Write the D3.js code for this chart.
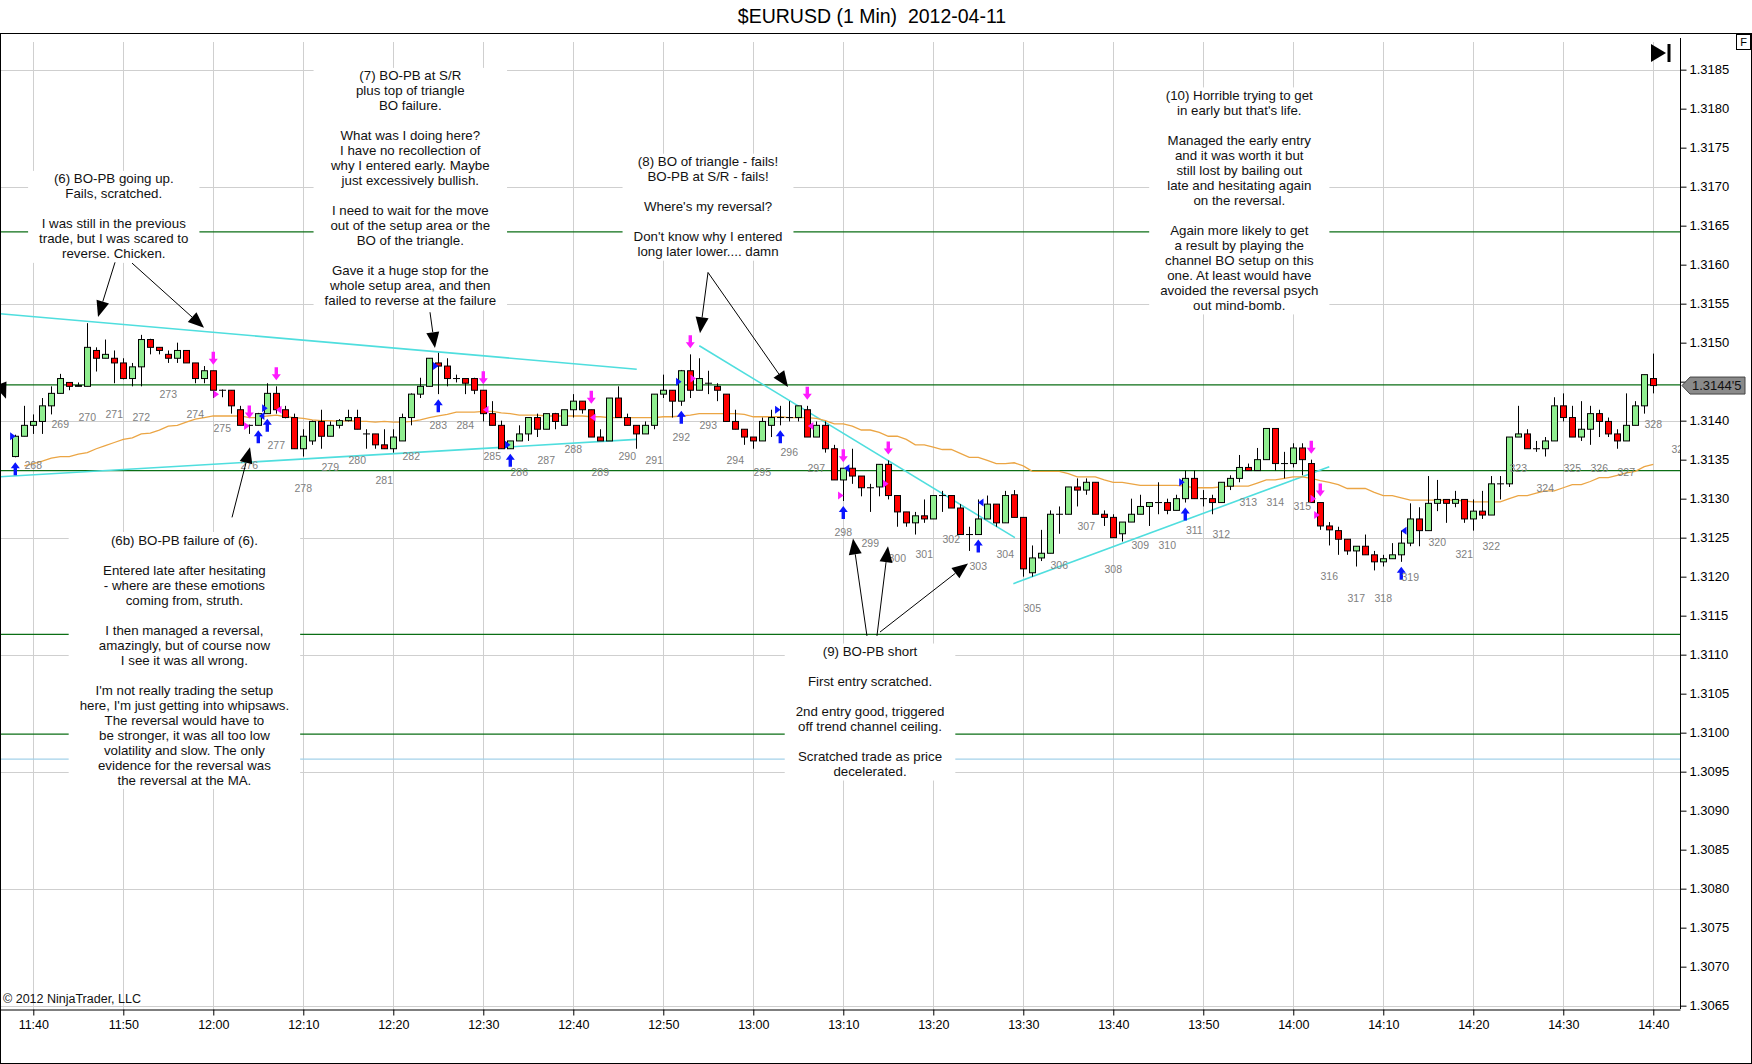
<!DOCTYPE html>
<html>
<head>
<meta charset="utf-8">
<script src="https://cdn.jsdelivr.net/npm/d3@7"></script>
<style>
  body { margin: 0; background: #fff; }
  svg { display: block; }
  text { font-family: "Liberation Sans", Arial, sans-serif; }
</style>
</head>
<body>
<svg id="chart" width="1752" height="1064"></svg>
<script>
// ---- data -----------------------------------------------------------------
// one row per minute bar, [open, high, low, close]; first bar is 11:38
const firstBarOffset = -2
const bars = [
  [1.31354,1.31382,1.31353,1.31380],[1.31380,1.31419,1.31380,1.31394],[1.31394,1.31408,1.31383,1.31399],
  [1.31399,1.31429,1.31383,1.31419],[1.31419,1.31444,1.31408,1.31435],[1.31435,1.31460,1.31435,1.31454],
  [1.31449,1.31449,1.31439,1.31444],[1.31444,1.31449,1.31444,1.31445],[1.31444,1.31525,1.31444,1.31494],
  [1.31490,1.31494,1.31463,1.31480],[1.31480,1.31504,1.31480,1.31485],[1.31480,1.31490,1.31448,1.31474],
  [1.31474,1.31480,1.31453,1.31454],[1.31454,1.31474,1.31444,1.31469],[1.31469,1.31510,1.31444,1.31504],
  [1.31504,1.31505,1.31485,1.31494],[1.31494,1.31494,1.31485,1.31490],[1.31485,1.31490,1.31474,1.31480],
  [1.31480,1.31500,1.31474,1.31490],[1.31490,1.31490,1.31474,1.31474],[1.31474,1.31474,1.31448,1.31454],
  [1.31454,1.31470,1.31448,1.31464],[1.31464,1.31464,1.31429,1.31439],[1.31439,1.31440,1.31430,1.31439],
  [1.31439,1.31439,1.31409,1.31419],[1.31414,1.31419,1.31394,1.31394],[1.31394,1.31395,1.31383,1.31394],
  [1.31394,1.31410,1.31394,1.31409],[1.31409,1.31448,1.31409,1.31435],[1.31435,1.31444,1.31409,1.31414],
  [1.31414,1.31419,1.31403,1.31404],[1.31404,1.31409,1.31364,1.31364],[1.31364,1.31389,1.31354,1.31380],
  [1.31374,1.31400,1.31369,1.31399],[1.31399,1.31414,1.31364,1.31380],[1.31380,1.31399,1.31380,1.31394],
  [1.31394,1.31402,1.31390,1.31400],[1.31400,1.31414,1.31399,1.31404],[1.31404,1.31414,1.31389,1.31389],
  [1.31383,1.31389,1.31364,1.31383],[1.31383,1.31383,1.31364,1.31369],[1.31369,1.31389,1.31364,1.31364],
  [1.31364,1.31389,1.31359,1.31379],[1.31374,1.31409,1.31374,1.31404],[1.31404,1.31435,1.31394,1.31434],
  [1.31434,1.31455,1.31429,1.31444],[1.31444,1.31480,1.31444,1.31480],[1.31474,1.31487,1.31434,1.31470],
  [1.31470,1.31480,1.31444,1.31454],[1.31454,1.31459,1.31449,1.31454],[1.31454,1.31454,1.31434,1.31448],
  [1.31454,1.31455,1.31434,1.31439],[1.31439,1.31439,1.31399,1.31409],[1.31409,1.31425,1.31394,1.31394],
  [1.31394,1.31400,1.31364,1.31364],[1.31364,1.31374,1.31364,1.31374],[1.31374,1.31394,1.31374,1.31383],
  [1.31383,1.31404,1.31374,1.31404],[1.31404,1.31409,1.31379,1.31389],[1.31389,1.31409,1.31389,1.31409],
  [1.31409,1.31410,1.31389,1.31399],[1.31394,1.31414,1.31394,1.31414],[1.31414,1.31434,1.31404,1.31425],
  [1.31425,1.31425,1.31409,1.31414],[1.31414,1.31414,1.31379,1.31379],[1.31379,1.31389,1.31374,1.31374],
  [1.31374,1.31429,1.31374,1.31429],[1.31429,1.31444,1.31404,1.31404],[1.31404,1.31409,1.31394,1.31394],
  [1.31394,1.31394,1.31364,1.31383],[1.31383,1.31399,1.31383,1.31394],[1.31394,1.31434,1.31389,1.31434],
  [1.31434,1.31459,1.31429,1.31439],[1.31439,1.31439,1.31404,1.31425],[1.31425,1.31465,1.31419,1.31464],
  [1.31464,1.31485,1.31429,1.31439],[1.31439,1.31480,1.31439,1.31454],[1.31448,1.31464,1.31434,1.31448],
  [1.31444,1.31448,1.31425,1.31439],[1.31434,1.31434,1.31399,1.31399],[1.31399,1.31414,1.31389,1.31389],
  [1.31389,1.31389,1.31369,1.31379],[1.31379,1.31379,1.31364,1.31374],[1.31374,1.31404,1.31374,1.31399],
  [1.31394,1.31414,1.31379,1.31404],[1.31404,1.31419,1.31394,1.31404],[1.31404,1.31425,1.31399,1.31404],
  [1.31404,1.31419,1.31399,1.31419],[1.31414,1.31419,1.31379,1.31379],[1.31379,1.31399,1.31379,1.31394],
  [1.31394,1.31399,1.31359,1.31364],[1.31364,1.31369,1.31324,1.31324],[1.31324,1.31339,1.31297,1.31339],
  [1.31339,1.31364,1.31319,1.31329],[1.31329,1.31329,1.31303,1.31314],[1.31314,1.31319,1.31283,1.31314],
  [1.31315,1.31344,1.31303,1.31344],[1.31344,1.31349,1.31299,1.31304],[1.31304,1.31304,1.31264,1.31283],
  [1.31283,1.31283,1.31264,1.31269],[1.31269,1.31283,1.31254,1.31278],[1.31278,1.31299,1.31269,1.31274],
  [1.31274,1.31304,1.31274,1.31304],[1.31304,1.31310,1.31283,1.31304],[1.31304,1.31304,1.31288,1.31288],
  [1.31288,1.31293,1.31254,1.31254],[1.31254,1.31264,1.31233,1.31254],[1.31254,1.31299,1.31254,1.31274],
  [1.31274,1.31304,1.31274,1.31293],[1.31293,1.31293,1.31264,1.31269],[1.31269,1.31310,1.31269,1.31304],
  [1.31305,1.31311,1.31276,1.31276],[1.31276,1.31276,1.31200,1.31210],[1.31205,1.31240,1.31200,1.31224],
  [1.31224,1.31260,1.31220,1.31230],[1.31230,1.31285,1.31230,1.31280],[1.31280,1.31290,1.31255,1.31280],
  [1.31280,1.31315,1.31280,1.31315],[1.31315,1.31326,1.31290,1.31311],[1.31311,1.31326,1.31305,1.31321],
  [1.31321,1.31321,1.31280,1.31280],[1.31280,1.31285,1.31265,1.31276],[1.31276,1.31280,1.31250,1.31250],
  [1.31255,1.31270,1.31245,1.31270],[1.31270,1.31300,1.31270,1.31280],[1.31280,1.31305,1.31280,1.31290],
  [1.31290,1.31295,1.31265,1.31295],[1.31295,1.31321,1.31280,1.31295],[1.31295,1.31300,1.31280,1.31285],
  [1.31285,1.31305,1.31285,1.31300],[1.31300,1.31336,1.31295,1.31326],[1.31326,1.31336,1.31300,1.31300],
  [1.31300,1.31311,1.31290,1.31300],[1.31300,1.31305,1.31280,1.31295],[1.31295,1.31321,1.31295,1.31321],
  [1.31316,1.31330,1.31311,1.31326],[1.31326,1.31356,1.31321,1.31340],[1.31340,1.31345,1.31336,1.31336],
  [1.31336,1.31365,1.31336,1.31350],[1.31350,1.31390,1.31350,1.31390],[1.31390,1.31390,1.31336,1.31345],
  [1.31345,1.31360,1.31326,1.31345],[1.31345,1.31371,1.31340,1.31365],[1.31365,1.31371,1.31330,1.31350],
  [1.31345,1.31350,1.31295,1.31295],[1.31295,1.31295,1.31260,1.31265],[1.31265,1.31270,1.31240,1.31260],
  [1.31259,1.31264,1.31228,1.31248],[1.31248,1.31248,1.31228,1.31233],[1.31233,1.31239,1.31213,1.31239],
  [1.31239,1.31254,1.31228,1.31228],[1.31228,1.31233,1.31208,1.31219],[1.31219,1.31228,1.31213,1.31223],
  [1.31223,1.31243,1.31223,1.31228],[1.31228,1.31259,1.31219,1.31243],[1.31243,1.31294,1.31239,1.31274],
  [1.31274,1.31289,1.31239,1.31259],[1.31259,1.31329,1.31259,1.31294],[1.31294,1.31324,1.31284,1.31299],
  [1.31299,1.31299,1.31269,1.31294],[1.31294,1.31310,1.31289,1.31299],[1.31299,1.31299,1.31269,1.31274],
  [1.31274,1.31299,1.31259,1.31284],[1.31284,1.31310,1.31274,1.31279],[1.31279,1.31329,1.31279,1.31319],
  [1.31319,1.31329,1.31299,1.31319],[1.31319,1.31379,1.31315,1.31379],[1.31379,1.31419,1.31379,1.31383],
  [1.31383,1.31389,1.31364,1.31364],[1.31364,1.31374,1.31360,1.31364],[1.31364,1.31379,1.31354,1.31374],
  [1.31374,1.31430,1.31374,1.31419],[1.31419,1.31435,1.31399,1.31404],[1.31404,1.31419,1.31379,1.31379],
  [1.31379,1.31425,1.31374,1.31389],[1.31389,1.31419,1.31369,1.31409],[1.31409,1.31414,1.31379,1.31399],
  [1.31399,1.31404,1.31379,1.31383],[1.31383,1.31389,1.31364,1.31374],[1.31374,1.31435,1.31374,1.31394],
  [1.31394,1.31425,1.31394,1.31419],[1.31419,1.31459,1.31409,1.31459],[1.31454,1.31486,1.31435,1.31445]
]

// moving average, one value per bar starting at 11:39
const maOffset = -1
const maValues = [
  1.31342,1.31345,1.31348,1.31352,1.31354,1.31354,1.31357,1.31359,1.31364,1.31368,
  1.31372,1.31376,1.31378,1.31383,1.31384,1.31388,1.31393,1.31394,1.31398,1.31402,
  1.31404,1.31406,1.31406,1.31406,1.31406,1.31404,1.31404,1.31406,1.31407,1.31405,
  1.31404,1.31403,1.31401,1.31400,1.31400,1.31399,1.31400,1.31399,1.31399,1.31398,
  1.31399,1.31398,1.31398,1.31399,1.31401,1.31404,1.31406,1.31408,1.31411,1.31411,
  1.31411,1.31412,1.31412,1.31410,1.31409,1.31407,1.31407,1.31407,1.31406,1.31406,
  1.31406,1.31406,1.31406,1.31405,1.31405,1.31404,1.31404,1.31404,1.31404,1.31404,
  1.31404,1.31405,1.31405,1.31406,1.31407,1.31409,1.31409,1.31409,1.31409,1.31409,
  1.31408,1.31405,1.31405,1.31405,1.31405,1.31404,1.31404,1.31404,1.31403,1.31400,
  1.31396,1.31396,1.31393,1.31388,1.31388,1.31385,1.31380,1.31380,1.31376,1.31369,
  1.31369,1.31366,1.31363,1.31363,1.31358,1.31353,1.31353,1.31349,1.31345,1.31345,
  1.31346,1.31342,1.31335,1.31335,1.31335,1.31335,1.31332,1.31328,1.31328,1.31328,
  1.31324,1.31321,1.31321,1.31319,1.31317,1.31317,1.31317,1.31317,1.31317,1.31316,
  1.31314,1.31314,1.31314,1.31315,1.31316,1.31316,1.31316,1.31320,1.31324,1.31324,
  1.31326,1.31328,1.31328,1.31326,1.31323,1.31321,1.31318,1.31313,1.31313,1.31313,
  1.31308,1.31304,1.31304,1.31301,1.31298,1.31298,1.31298,1.31298,1.31298,1.31298,
  1.31297,1.31296,1.31296,1.31296,1.31296,1.31300,1.31304,1.31304,1.31307,1.31310,
  1.31310,1.31314,1.31318,1.31318,1.31322,1.31327,1.31327,1.31330,1.31333,1.31335,
  1.31341,1.31344
]

// bar counter printed under every third bar, starting at 11:40
const firstBarNumber = 268
const lastBarNumber = 329
const lastLabelLow = 1.31404   // 329 sits past the last bar

const yTickValues = d3.range(1.3065, 1.31851, 0.0005)
const yGridValues = d3.range(1.3065, 1.31851, 0.0015)

// horizontal S/R lines
const greenLevels = [1.31642, 1.31446, 1.31336, 1.31126, 1.30998]
const blueLevels = [1.30966]

// trend lines: [startMinute, startPrice, endMinute, endPrice]
const trendLines = [
  [-3.7, 1.31537, 67.05, 1.31466],
  [-3.7, 1.31328, 67.05, 1.31376],
  [74.0, 1.31496, 109.07, 1.31250],
  [108.9, 1.31191, 144.0, 1.31341]
]

const longArrows = [-2, 25, 26, 45, 53, 72, 83, 90, 105, 128, 152]
const shortArrows = [20, 24, 27, 50, 62, 73, 86, 90, 95, 142, 143]

// fills: [minute, price, colour, direction]
const fills = [
  [-2.3, 1.31380, 'b', 'r'], [20.3, 1.31434, 'm', 'r'], [23.7, 1.31393, 'm', 'r'],
  [25.7, 1.31416, 'b', 'r'], [25.4, 1.31406, 'b', 'l'], [27.3, 1.31414, 'm', 'l'],
  [44.7, 1.31470, 'b', 'r'], [50.3, 1.31414, 'm', 'l'], [52.7, 1.31369, 'b', 'r'],
  [62.2, 1.31404, 'm', 'l'], [71.7, 1.31450, 'b', 'r'], [73.3, 1.31454, 'm', 'r'],
  [82.7, 1.31414, 'b', 'r'], [86.4, 1.31393, 'm', 'l'], [90.4, 1.31339, 'b', 'l'],
  [89.7, 1.31304, 'm', 'r'], [94.7, 1.31319, 'm', 'r'], [105.3, 1.31295, 'b', 'l'],
  [127.6, 1.31321, 'b', 'r'], [142.2, 1.31300, 'm', 'r'], [142.6, 1.31279, 'm', 'r'],
  [152.3, 1.31259, 'b', 'l']
]

// comments: [centreMinute, firstLinePrice, lines]
const notes = [
  [8.94, 1.31710, ['(6) BO-PB going up.', 'Fails, scratched.', '', 'I was still in the previous',
    'trade, but I was scared to', 'reverse. Chicken.']],
  [41.89, 1.31842, ['(7) BO-PB at S/R', 'plus top of triangle', 'BO failure.', '',
    'What was I doing here?', 'I have no recollection of', 'why I entered early. Maybe',
    'just excessively bullish.', '', 'I need to wait for the move', 'out of the setup area or the',
    'BO of the triangle.', '', 'Gave it a huge stop for the', 'whole setup area, and then',
    'failed to reverse at the failure']],
  [74.97, 1.31732, ['(8) BO of triangle - fails!', 'BO-PB at S/R - fails!', '', "Where's my reversal?", '',
    "Don't know why I entered", 'long later lower.... damn']],
  [134.0, 1.31817, ['(10) Horrible trying to get', "in early but that's life.", '', 'Managed the early entry',
    'and it was worth it but', 'still lost by bailing out', 'late and hesitating again', 'on the reversal.', '',
    'Again more likely to get', 'a result by playing the', 'channel BO setup on this',
    'one. At least would have', 'avoided the reversal psych', 'out mind-bomb.']],
  [16.79, 1.31247, ['(6b) BO-PB failure of (6).', '', 'Entered late after hesitating',
    '- where are these emotions', 'coming from, struth.', '', 'I then managed a reversal,',
    'amazingly, but of course now', 'I see it was all wrong.', '', "I'm not really trading the setup",
    "here, I'm just getting into whipsaws.", 'The reversal would have to', 'be stronger, it was all too low',
    'volatility and slow. The only', 'evidence for the reversal was', 'the reversal at the MA.']],
  [92.97, 1.31104, ['(9) BO-PB short', '', 'First entry scratched.', '', '2nd entry good, triggered',
    'off trend channel ceiling.', '', 'Scratched trade as price', 'decelerated.']]
]

// pointer arrows: [fromMinute, fromPrice, toMinute, toPrice]
const pointers = [
  [9.08, 1.31603, 7.19, 1.31533], [10.97, 1.31602, 18.97, 1.31519],
  [44.08, 1.31539, 44.63, 1.31493], [74.97, 1.31590, 74.08, 1.31512],
  [74.97, 1.31590, 83.86, 1.31443], [22.08, 1.31276, 24.08, 1.31366],
  [92.63, 1.31124, 91.08, 1.31249], [93.74, 1.31124, 94.97, 1.31239],
  [94.08, 1.31129, 103.86, 1.31217], [-5.9, 1.31516, -3.03, 1.31428]
]

// ---- chart ----------------------------------------------------------------
const W = 1752, H = 1064
const plot = { left: 0, right: 1680, top: 33, bottom: 1009 }
const t0 = new Date(2012, 3, 11, 11, 40)
const minuteToDate = m => new Date(t0.getTime() + m * 60000)

const x = d3.scaleLinear().domain([-3.7, 182.97]).range([plot.left, plot.right])
const xTime = d3.scaleTime().domain([minuteToDate(-3.7), minuteToDate(182.97)]).range([plot.left, plot.right])
const y = d3.scaleLinear().domain([1.30647, 1.31897]).range([1008, 33])

const svg = d3.select('#chart')
const defs = svg.append('defs')
defs.append('clipPath').attr('id', 'plotClip').append('rect')
  .attr('x', plot.left).attr('y', plot.top).attr('width', plot.right - plot.left).attr('height', plot.bottom - plot.top)

svg.append('text').attr('x', 872).attr('y', 23).attr('text-anchor', 'middle')
  .style('font-size', '19.5px').style('white-space', 'pre').text('$EURUSD (1 Min)  2012-04-11')

const g = svg.append('g').attr('clip-path', 'url(#plotClip)')

// grid
const timeTicks = xTime.ticks(d3.timeMinute.every(10))
g.append('g').selectAll('line').data(timeTicks).enter().append('line')
  .attr('x1', d => Math.round(xTime(d)) + 0.5).attr('x2', d => Math.round(xTime(d)) + 0.5)
  .attr('y1', 42).attr('y2', plot.bottom).attr('stroke', '#cfcfcf')
g.append('g').selectAll('line').data(yGridValues).enter().append('line')
  .attr('x1', plot.left).attr('x2', plot.right)
  .attr('y1', d => Math.round(y(d)) + 0.5).attr('y2', d => Math.round(y(d)) + 0.5).attr('stroke', '#cfcfcf')

// S/R lines
g.append('g').selectAll('line').data(greenLevels).enter().append('line')
  .attr('x1', plot.left).attr('x2', plot.right)
  .attr('y1', d => y(d)).attr('y2', d => y(d)).attr('stroke', '#0b6e14').attr('stroke-width', 1.3)
g.append('g').selectAll('line').data(blueLevels).enter().append('line')
  .attr('x1', plot.left).attr('x2', plot.right)
  .attr('y1', d => y(d)).attr('y2', d => y(d)).attr('stroke', '#a4d2ea').attr('stroke-width', 1.2)

// comment boxes
const noteLineHeight = 15
notes.forEach(([m, p, lines]) => {
  const box = g.append('g')
  const cx = x(m), cy = y(p)
  lines.forEach((line, k) => {
    box.append('text').attr('x', cx).attr('y', cy + k * noteLineHeight)
      .attr('text-anchor', 'middle').attr('dominant-baseline', 'central')
      .style('font-size', '13.3px').attr('fill', '#111').text(line)
  })
  const bb = box.node().getBBox()
  box.insert('rect', ':first-child')
    .attr('x', bb.x - 11).attr('y', cy - 8).attr('width', bb.width + 22)
    .attr('height', (lines.length - 1) * noteLineHeight + 17).attr('fill', '#fff')
})

// trend lines
g.append('g').selectAll('line').data(trendLines).enter().append('line')
  .attr('x1', d => x(d[0])).attr('y1', d => y(d[1])).attr('x2', d => x(d[2])).attr('y2', d => y(d[3]))
  .attr('stroke', '#4fdede').attr('stroke-width', 1.6)

// moving average
const maLine = d3.line().x((d, k) => x(k + maOffset)).y(d => y(d))
g.append('path').datum(maValues).attr('d', maLine)
  .attr('fill', 'none').attr('stroke', '#eba544').attr('stroke-width', 1.3)

// candles
const candleData = bars.map((b, k) => ({ m: k + firstBarOffset, o: b[0], h: b[1], l: b[2], c: b[3] }))
const byMinute = new Map(candleData.map(d => [d.m, d]))
const candles = g.append('g').selectAll('g').data(candleData).enter().append('g')
candles.append('line')
  .attr('x1', d => Math.round(x(d.m)) + 0.5).attr('x2', d => Math.round(x(d.m)) + 0.5)
  .attr('y1', d => y(d.h)).attr('y2', d => y(d.l)).attr('stroke', '#000')
candles.append('rect')
  .attr('x', d => Math.round(x(d.m)) - 3 + 0.5).attr('width', 6)
  .attr('y', d => y(Math.max(d.o, d.c)))
  .attr('height', d => Math.max(0.01, Math.abs(y(d.o) - y(d.c))))
  .attr('fill', d => d.c > d.o ? '#90ee90' : d.c < d.o ? '#ff0000' : '#000')
  .attr('stroke', '#000').attr('stroke-width', 1)

// trade arrows
const arrowPath = (cx, tipY, dir) => {
  const s = dir
  return `M${cx},${tipY} L${cx + 4.5},${tipY + 6 * s} L${cx + 1.7},${tipY + 6 * s} L${cx + 1.7},${tipY + 13 * s}` +
    ` L${cx - 1.7},${tipY + 13 * s} L${cx - 1.7},${tipY + 6 * s} L${cx - 4.5},${tipY + 6 * s} Z`
}
g.append('g').selectAll('path').data(longArrows).enter().append('path')
  .attr('d', m => arrowPath(x(m), y(byMinute.get(m).l) + 5, 1)).attr('fill', '#0a14ff')
g.append('g').selectAll('path').data(shortArrows).enter().append('path')
  .attr('d', m => arrowPath(x(m), y(byMinute.get(m).h) - 6, -1)).attr('fill', '#ff1aff')

// fill markers
g.append('g').selectAll('path').data(fills).enter().append('path')
  .attr('d', d => {
    const px = x(d[0]), py = y(d[1])
    return d[3] === 'r' ? `M${px - 2.5},${py - 4} L${px + 3},${py} L${px - 2.5},${py + 4} Z`
                        : `M${px + 2.5},${py - 4} L${px - 3},${py} L${px + 2.5},${py + 4} Z`
  })
  .attr('fill', d => d[2] === 'b' ? '#0a14ff' : '#ff1aff')

// bar numbers
const barNumbers = d3.range(firstBarNumber, lastBarNumber + 1)
g.append('g').selectAll('text').data(barNumbers).enter().append('text')
  .attr('x', n => x((n - firstBarNumber) * 3))
  .attr('y', n => {
    const bar = byMinute.get((n - firstBarNumber) * 3)
    return y(bar ? bar.l : lastLabelLow) + 31
  })
  .attr('text-anchor', 'middle').attr('dominant-baseline', 'central')
  .style('font-size', '10.5px').attr('fill', '#808080').text(n => n)

// pointer arrows
const pg = g.append('g')
pointers.forEach(([m0, p0, m1, p1]) => {
  const x0 = x(m0), y0 = y(p0), x1 = x(m1), y1 = y(p1)
  const ang = Math.atan2(y1 - y0, x1 - x0)
  const len = 16, half = 6.5
  const bx = x1 - len * Math.cos(ang), by = y1 - len * Math.sin(ang)
  pg.append('line').attr('x1', x0).attr('y1', y0).attr('x2', bx).attr('y2', by)
    .attr('stroke', '#000').attr('stroke-width', 1)
  pg.append('polygon').attr('points', [
    [x1, y1],
    [bx + half * Math.sin(ang), by - half * Math.cos(ang)],
    [bx - half * Math.sin(ang), by + half * Math.cos(ang)]
  ].map(q => q.join(',')).join(' ')).attr('fill', '#000')
})

// axes
const lastClose = bars[bars.length - 1][3]
const ly = y(lastClose)

const yAxis = d3.axisRight(y).tickValues(yTickValues).tickFormat(d3.format('.4f')).tickSize(6).tickSizeOuter(0).tickPadding(3)
const ya = svg.append('g').attr('transform', `translate(${plot.right + 0.5},0)`).call(yAxis)
ya.select('.domain').attr('d', `M0,38 V${plot.bottom}`)
ya.selectAll('text').style('font-size', '13px').attr('fill', '#000').style('font-family', '"Liberation Sans", Arial, sans-serif')
// the last-price tag hides the label underneath it
ya.selectAll('.tick').filter(d => Math.abs(y(d) - ly) < 14).select('text').remove()

const xAxis = d3.axisBottom(xTime).ticks(d3.timeMinute.every(10)).tickFormat(d3.timeFormat('%H:%M'))
  .tickSize(6).tickSizeOuter(0).tickPadding(5)
const xa = svg.append('g').attr('transform', `translate(0,${plot.bottom + 0.5})`).call(xAxis)
xa.selectAll('text').style('font-size', '12.5px').attr('fill', '#000').style('font-family', '"Liberation Sans", Arial, sans-serif')

// frame
svg.append('rect').attr('x', 0.5).attr('y', 33.5).attr('width', W - 1).attr('height', H - 34)
  .attr('fill', 'none').attr('stroke', '#000')

// last price marker
svg.append('polygon').attr('points', [
  [plot.right + 2, ly], [plot.right + 10, ly - 8.5], [plot.right + 65, ly - 8.5],
  [plot.right + 65, ly + 8.5], [plot.right + 10, ly + 8.5]
].map(q => q.join(',')).join(' ')).attr('fill', '#8a8a8a').attr('stroke', '#444')
const priceStr = d3.format('.5f')(lastClose)
svg.append('text').attr('x', plot.right + 12).attr('y', ly).attr('dominant-baseline', 'central')
  .style('font-size', '13px').attr('fill', '#111').text(priceStr.slice(0, 6) + "'" + priceStr.slice(6))

// corner buttons
svg.append('rect').attr('x', 1736.5).attr('y', 34.5).attr('width', 14).attr('height', 15)
  .attr('fill', '#fff').attr('stroke', '#000')
svg.append('text').attr('x', 1743.5).attr('y', 46).attr('text-anchor', 'middle')
  .style('font-size', '11px').text('F')
svg.append('polygon').attr('points', '1651,44 1666,53 1651,62').attr('fill', '#000')
svg.append('rect').attr('x', 1667.5).attr('y', 44).attr('width', 3).attr('height', 18).attr('fill', '#000')

svg.append('text').attr('x', 3).attr('y', 1003).style('font-size', '12.5px').attr('fill', '#111')
  .text('\u00a9 2012 NinjaTrader, LLC')
</script>
</body>
</html>
